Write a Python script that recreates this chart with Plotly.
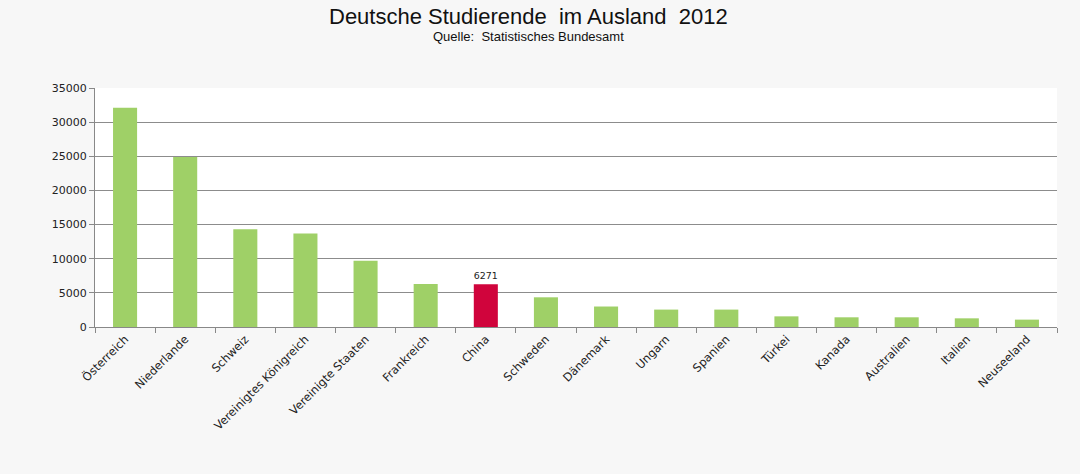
import plotly.graph_objects as go

# Daten
laender = ["Österreich", "Niederlande", "Schweiz", "Vereinigtes Königreich",
           "Vereinigte Staaten", "Frankreich", "China", "Schweden", "Dänemark",
           "Ungarn", "Spanien", "Türkei", "Kanada", "Australien", "Italien",
           "Neuseeland"]
studierende = [32100, 24900, 14300, 13700, 9700, 6300, 6271, 4350, 3000,
               2550, 2550, 1560, 1420, 1420, 1270, 1080]
y_ticks = [0, 5000, 10000, 15000, 20000, 25000, 30000, 35000]
y_tick_text = [str(v) for v in y_ticks]

farben = ["#d0043c" if l == "China" else "#9fd067" for l in laender]
beschriftung = ["6271" if l == "China" else "" for l in laender]

fig = go.Figure(go.Bar(
    x=laender,
    y=studierende,
    marker=dict(color=farben, line=dict(width=0)),
    text=beschriftung,
    textposition="outside",
    textfont=dict(family="DejaVu Sans", size=11, color="#222"),
    cliponaxis=False,
))

fig.update_layout(
    width=1080, height=474,
    paper_bgcolor="#f7f7f7",
    plot_bgcolor="#ffffff",
    margin=dict(l=95, r=23, t=88, b=147),
    bargap=0.6,
    showlegend=False,
    font=dict(family="DejaVu Sans", size=11, color="#222"),
    annotations=[
        dict(text="Deutsche Studierende  im Ausland  2012", x=0.451, y=1.0,
             xref="paper", yref="paper", yanchor="middle", yshift=72,
             showarrow=False,
             font=dict(family="Liberation Sans", size=22, color="#111")),
        dict(text="Quelle:  Statistisches Bundesamt", x=0.451, y=1.0,
             xref="paper", yref="paper", yanchor="middle", yshift=52,
             showarrow=False,
             font=dict(family="Liberation Sans", size=13, color="#111")),
    ],
)

fig.update_xaxes(
    tickangle=-45,
    tickfont=dict(family="DejaVu Sans", size=11.5, color="#222"),
    showline=True, linecolor="#888", linewidth=1,
    ticks="outside", ticklen=5, tickcolor="#888",
    tickson="boundaries",
    showgrid=False,
)
fig.update_yaxes(
    range=[0, 35000],
    tickvals=y_ticks,
    ticktext=y_tick_text,
    showgrid=True, gridcolor="#8c8c8c", gridwidth=1,
    showline=True, linecolor="#888", linewidth=1,
    ticks="outside", ticklen=5, tickcolor="#888",
    tickfont=dict(family="DejaVu Sans", size=11, color="#222"),
    zeroline=False,
)

fig.write_html(
    "out.html",
    config={"displayModeBar": False},
    post_script="document.body.style.margin='0';document.body.style.background='#f7f7f7';",
)
